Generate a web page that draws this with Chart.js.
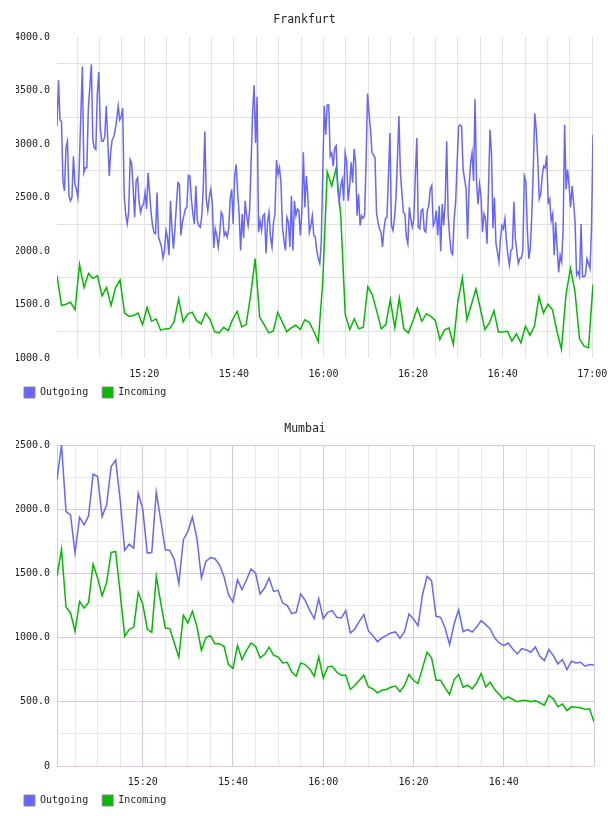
<!DOCTYPE html>
<html>
<head>
<meta charset="utf-8">
<script src="https://cdn.jsdelivr.net/npm/chart.js@4.4.1/dist/chart.umd.min.js"></script>
<style>
    body { margin: 0; background: #fff; }
    canvas { display: block; }
</style>
</head>
<body>
<canvas id="frankfurt" width="608" height="408"></canvas>
<canvas id="mumbai" width="608" height="408"></canvas>
<script>
// Frankfurt - Outgoing, one sample every 20 s starting 15:00:30
const frankfurtOutgoing = [
    3164, 3596, 3225, 3210, 2654, 2562, 2963, 3025, 2516, 2469,
    2500, 2886, 2624, 2577, 2500, 2824, 3287, 3725, 2732, 2778,
    2778, 3333, 3534, 3744, 3040, 2963, 2948, 3472, 3673, 3148,
    3025, 3025, 3071, 3355, 3040, 2701, 2932, 3040, 3065, 3133,
    3225, 3355, 3225, 3256, 3333, 2516, 2346, 2253, 2361, 2855,
    2824, 2593, 2315, 2654, 2685, 2454, 2361, 2423, 2438, 2546,
    2392, 2732, 2546, 2361, 2238, 2170, 2161, 2546, 2130, 2084,
    2037, 1935, 2006, 2192, 2130, 1960, 2469, 2207, 2022, 2207,
    2438, 2639, 2624, 2145, 2269, 2330, 2392, 2408, 2707, 2701,
    2485, 2346, 2253, 2608, 2284, 2238, 2222, 2330, 2608, 3117,
    2485, 2377, 2500, 2577, 2454, 2028, 2207, 2145, 2037, 2161,
    2361, 2330, 2145, 2176, 2130, 2207, 2485, 2577, 2253, 2701,
    2809, 2546, 2346, 2006, 2346, 2121, 2469, 2330, 2238, 2377,
    2824, 3287, 3549, 3009, 3441, 2176, 2284, 2192, 2330, 2346,
    1976, 2269, 2361, 2130, 2037, 2269, 2346, 2849, 2716, 2778,
    2639, 2222, 2099, 2006, 2315, 2269, 2037, 2516, 2006, 2469,
    2330, 2392, 2377, 2145, 2367, 2923, 2408, 2701, 2516, 2176,
    2238, 2330, 2145, 2130, 2006, 1929, 1883, 2084, 2732, 3355,
    3086, 3364, 3364, 2886, 2917, 2793, 2963, 2985, 2577, 2454,
    2608, 2670, 2469, 2917, 2840, 2469, 2608, 2830, 2639, 2954,
    2824, 2330, 2531, 2238, 2330, 2306, 2330, 2824, 3472, 3287,
    3133, 2917, 2901, 2870, 2361, 2269, 2207, 2176, 2037, 2207,
    2300, 2315, 2701, 3102, 2238, 2192, 2300, 2485, 2855, 3262,
    2732, 2546, 2361, 2346, 2130, 2068, 2408, 2300, 2222, 2300,
    2701, 3056, 2222, 2207, 2377, 2392, 2192, 2176, 2377, 2423,
    2583, 2614, 2238, 2275, 2377, 2145, 2423, 1997, 2438, 2238,
    2454, 3025, 2330, 2130, 1991, 1966, 2300, 2454, 2824, 3164,
    3179, 3164, 2762, 2670, 2577, 2114, 2608, 2824, 2917, 2654,
    3417, 2639, 2438, 2624, 2516, 2176, 2346, 2300, 2068, 2577,
    3133, 2917, 2213, 2500, 2068, 1991, 1898, 2114, 2238, 2207,
    2300, 2099, 1960, 1868, 2006, 2022, 2460, 2114, 1991, 1883,
    1929, 1935, 2006, 2701, 2654, 2207, 1929, 2022, 2330, 2762,
    3287, 3133, 2855, 2485, 2531, 2701, 2793, 2778, 2892, 2454,
    2485, 2284, 2346, 1960, 2269, 2022, 1800, 1960, 1898, 2207,
    3179, 2577, 2762, 2608, 2408, 2608, 2454, 2269, 1775, 1806,
    1760, 2253, 1760, 1760, 1781, 1929, 1883, 1837, 2207, 3086
];

// Frankfurt - Incoming, about one sample per minute
const frankfurtIncoming = [
    1769, 1491, 1503, 1522, 1451, 1874, 1658, 1790, 1744, 1769,
    1581, 1658, 1491, 1658, 1729, 1420, 1389, 1398, 1420, 1312,
    1472, 1343, 1365, 1260, 1272, 1275, 1337, 1553, 1337, 1411,
    1429, 1349, 1318, 1420, 1358, 1244, 1235, 1287, 1256, 1361,
    1436, 1290, 1312, 1590, 1929, 1380, 1312, 1235, 1250, 1426,
    1337, 1244, 1281, 1306, 1266, 1358, 1334, 1250, 1152, 1713,
    2738, 2608, 2778, 2330, 1405, 1266, 1365, 1272, 1287, 1667,
    1590, 1436, 1272, 1312, 1544, 1281, 1559, 1272, 1235, 1343,
    1466, 1343, 1414, 1389, 1352, 1173, 1260, 1281, 1127, 1528,
    1750, 1358, 1497, 1645, 1460, 1266, 1328, 1442, 1244, 1244,
    1250, 1158, 1226, 1142, 1297, 1213, 1297, 1574, 1420, 1503,
    1451, 1250, 1081, 1590, 1837, 1621, 1182, 1111, 1096, 1689
];

// Mumbai - one sample per minute from 15:01 to 17:00
const mumbaiOutgoing = [
    2228, 2500, 1982, 1956, 1658, 1938, 1878, 1948, 2272, 2254,
    1943, 2034, 2332, 2383, 2072, 1679, 1728, 1697, 2124, 2003,
    1658, 1663, 2132, 1912, 1684, 1679, 1606, 1420, 1762, 1826,
    1938, 1775, 1464, 1593, 1624, 1614, 1567, 1477, 1334, 1277,
    1451, 1373, 1451, 1534, 1502, 1339, 1386, 1464, 1360, 1368,
    1269, 1251, 1186, 1197, 1339, 1290, 1212, 1147, 1303, 1147,
    1197, 1210, 1158, 1153, 1210, 1036, 1067, 1127, 1179, 1054,
    1015, 969, 997, 1018, 1036, 1044, 995, 1044, 1184, 1145,
    1093, 1334, 1477, 1443, 1166, 1158, 1075, 945, 1106, 1217,
    1046, 1062, 1044, 1083, 1132, 1101, 1067, 997, 958, 938,
    958, 912, 873, 914, 904, 886, 927, 855, 821, 907,
    860, 795, 829, 751, 816, 803, 808, 777, 790, 787
];

const mumbaiIncoming = [
    1477, 1689, 1238, 1192, 1049, 1282, 1230, 1274, 1572, 1464,
    1326, 1430, 1663, 1671, 1347, 1010, 1062, 1080, 1352, 1262,
    1067, 1041, 1477, 1269, 1075, 1070, 958, 847, 1173, 1114,
    1205, 1088, 901, 1000, 1015, 953, 953, 932, 790, 759,
    938, 829, 901, 958, 932, 842, 868, 925, 862, 850,
    803, 808, 733, 699, 803, 790, 756, 699, 850, 686,
    772, 777, 730, 707, 707, 596, 627, 668, 707, 616,
    601, 570, 590, 596, 614, 622, 578, 627, 712, 668,
    642, 764, 886, 842, 668, 668, 609, 557, 673, 712,
    614, 629, 601, 647, 720, 616, 653, 596, 557, 518,
    539, 518, 500, 510, 510, 500, 510, 492, 474, 549,
    523, 461, 482, 432, 461, 458, 453, 440, 445, 344
];

// Etiquetas del eje X (minutos desde las 15:00)
const timeTickMinutes = [20, 40, 60, 80, 100, 120];
const timeTickLabels = ['15:20', '15:40', '16:00', '16:20', '16:40', '17:00'];

const seriesLabels = ['Outgoing', 'Incoming'];
const outgoingColor = '#6666ff';
const incomingColor = '#00bb00';

// Tiempos en minutos desde las 15:00
const frankfurtOutTimes = frankfurtOutgoing.map((_, i) => 0.5 + i / 3);
const frankfurtInTimes = frankfurtIncoming.map((_, i) => 0.5 + i * (119.667 / 119));
const mumbaiTimes = mumbaiOutgoing.map((_, i) => 1 + i);

Chart.defaults.font.family = '"DejaVu Sans Mono", monospace';
Chart.defaults.font.size = 10;
Chart.defaults.color = '#222';

function toPoints(times, values) {
    return values.map((v, i) => ({ x: times[i], y: v }));
}

function lineDataset(label, color, points) {
    return {
        label: label,
        data: points,
        borderColor: color,
        backgroundColor: color,
        borderWidth: 1.5,
        pointRadius: 0,
        fill: false,
        tension: 0
    };
}

// Construye un gráfico con el estilo común a los dos paneles
function buildChart(canvasId, opts) {
    const ctx = document.getElementById(canvasId).getContext('2d');
    return new Chart(ctx, {
        type: 'line',
        data: { datasets: opts.datasets },
        options: {
            responsive: false,
            animation: false,
            events: [],
            layout: { padding: { left: 16, right: opts.rightPad } },
            plugins: {
                tooltip: { enabled: false },
                title: {
                    display: true,
                    text: opts.title,
                    color: '#222',
                    font: { size: 11.5, weight: 'normal' },
                    padding: opts.titlePadding
                },
                legend: {
                    position: 'bottom',
                    align: 'start',
                    labels: {
                        boxWidth: 11,
                        boxHeight: 11,
                        padding: 8,
                        font: { size: 10 },
                        // espacio extra al final para separar las entradas
                        generateLabels: chart => chart.data.datasets.map((ds, i) => ({
                            text: ds.label + ' ',
                            fillStyle: ds.borderColor,
                            strokeStyle: '#888',
                            lineWidth: 1,
                            fontColor: '#222',
                            hidden: false,
                            datasetIndex: i
                        }))
                    }
                }
            },
            scales: {
                x: {
                    type: 'linear',
                    min: opts.xMin,
                    max: opts.xMax,
                    afterFit: s => { s.height = 21; },
                    border: { display: false },
                    grid: {
                        drawTicks: true,
                        tickLength: 10,
                        tickColor: 'rgba(0,0,0,0)',
                        color: opts.xGridColor
                    },
                    ticks: {
                        stepSize: 5,
                        includeBounds: opts.xBounds,
                        autoSkip: false,
                        maxRotation: 0,
                        padding: 0,
                        callback: opts.xLabel
                    }
                },
                y: {
                    min: opts.yMin,
                    max: opts.yMax,
                    afterFit: s => { s.width = 41; },
                    border: { display: false },
                    grid: { drawTicks: false, color: opts.yGridColor },
                    ticks: {
                        stepSize: 250,
                        autoSkip: false,
                        padding: 7,
                        callback: opts.yLabel
                    }
                }
            }
        }
    });
}

function timeLabel(v) {
    const idx = timeTickMinutes.indexOf(v);
    return idx >= 0 ? timeTickLabels[idx] : '';
}

// Frankfurt
buildChart('frankfurt', {
    title: 'Frankfurt',
    titlePadding: { top: 13, bottom: 10.2 },
    rightPad: 15,
    datasets: [
        lineDataset(seriesLabels[0], outgoingColor, toPoints(frankfurtOutTimes, frankfurtOutgoing)),
        lineDataset(seriesLabels[1], incomingColor, toPoints(frankfurtInTimes, frankfurtIncoming))
    ],
    xMin: 0.5,
    xMax: frankfurtOutTimes[frankfurtOutTimes.length - 1],
    xBounds: false,
    xGridColor: '#e3e3e3',
    xLabel: v => timeLabel(v),
    yMin: 1000,
    yMax: 4000,
    yGridColor: c => (c.tick.value % 500 === 0 ? 'rgba(0,0,0,0)' : '#e0e0e0'),
    yLabel: v => (v % 500 === 0 ? v.toFixed(1) : '')
});

// Mumbai
buildChart('mumbai', {
    title: 'Mumbai',
    titlePadding: { top: 14, bottom: 9.2 },
    rightPad: 14,
    datasets: [
        lineDataset(seriesLabels[0], outgoingColor, toPoints(mumbaiTimes, mumbaiOutgoing)),
        lineDataset(seriesLabels[1], incomingColor, toPoints(mumbaiTimes, mumbaiIncoming))
    ],
    xMin: 1,
    xMax: 120,
    xBounds: true,
    xGridColor: c => (c.tick.value % 20 === 0 || c.tick.value === 1 ? '#dcc6dc' : '#e8e8e8'),
    xLabel: v => (v < 120 ? timeLabel(v) : ''),
    yMin: 0,
    yMax: 2500,
    yGridColor: c => (c.tick.value % 500 === 0 ? '#dcc6dc' : '#e8e8e8'),
    yLabel: v => (v === 0 ? '0' : (v % 500 === 0 ? v.toFixed(1) : ''))
});
</script>
</body>
</html>
